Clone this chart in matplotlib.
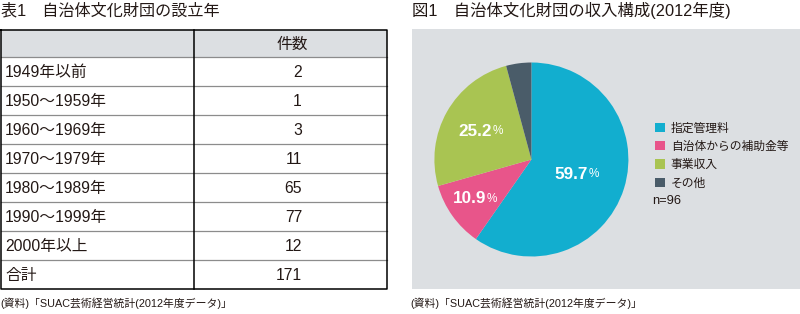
import matplotlib
matplotlib.use("Agg")
import matplotlib.pyplot as plt
from matplotlib.patches import Patch
import numpy as np

plt.rcParams['font.family'] = ['Noto Sans CJK JP', 'DejaVu Sans']
LAT = ['Liberation Sans', 'Noto Sans CJK JP']

# ---- data ----
table_title = "表1　自治体文化財団の設立年"
table_header = "件数"
periods = ["1949年以前", "1950～1959年", "1960～1969年", "1970～1979年",
           "1980～1989年", "1990～1999年", "2000年以上", "合計"]
counts = [2, 1, 3, 11, 65, 77, 12, 171]

pie_title = "図1　自治体文化財団の収入構成(2012年度)"
income_labels = ["指定管理料", "自治体からの補助金等", "事業収入", "その他"]
income_shares = [59.7, 10.9, 25.2, 4.2]
income_colors = ["#12aecf", "#e8558a", "#a9c452", "#4a5c69"]
shown_pct = ["59.7", "10.9", "25.2", None]
label_dist = [0.50, 0.70, 0.59, None]
n_note = "n=96"
source = "(資料)「SUAC芸術経営統計(2012年度データ)」"

W, H = 800, 314
fig = plt.figure(figsize=(W / 100, H / 100), dpi=100)
fig.patch.set_facecolor("white")

bg = fig.add_axes([0, 0, 1, 1])
bg.set_xlim(0, W)
bg.set_ylim(H, 0)
bg.axis("off")

TXT = "#231815"

# ---- table ----
x0, xm, x1 = 1, 193.5, 386.5
y_top, y_head = 30, 57.3
row_h = (289 - y_head) / len(periods)
bg.add_patch(plt.Rectangle((x0, y_top), x1 - x0, y_head - y_top,
                           facecolor="#dcdfe2", edgecolor="none", zorder=1))
row_edges = [y_head + i * row_h for i in range(len(periods) + 1)]
for y in row_edges[:-1]:
    bg.plot([x0, x1], [y, y], color="#8c8c8c", lw=0.9, zorder=2)
bg.plot([x0, x1, x1, x0, x0], [y_top, y_top, row_edges[-1], row_edges[-1], y_top],
        color="black", lw=1.1, zorder=3)
bg.plot([xm, xm], [y_top, row_edges[-1]], color="black", lw=1.1, zorder=3)

bg.text(x0, 11, table_title, fontsize=11.6, va="center", ha="left", color=TXT,
        family=LAT)
bg.text(292, (y_top + y_head) / 2 + 1, table_header, fontsize=11.3, va="center",
        ha="center", color=TXT, family=LAT)
for i, (p, c) in enumerate(zip(periods, counts)):
    yc = row_edges[i] + row_h / 2 + 1
    bg.text(5, yc, p, fontsize=11.3, va="center", ha="left", color=TXT, family=LAT)
    bg.text(302, yc, str(c), fontsize=11.3, va="center", ha="right", color=TXT,
            family=LAT)
bg.text(0, 303, source, fontsize=7.8, va="center", ha="left", color=TXT, family=LAT)

# ---- pie panel ----
bg.add_patch(plt.Rectangle((412, 28.7), W - 412, 289 - 28.7,
                           facecolor="#dcdfe2", edgecolor="none", zorder=0))
bg.text(412, 10, pie_title, fontsize=11.8, va="center", ha="left", color=TXT,
        family=LAT)
bg.text(410, 303, source, fontsize=7.8, va="center", ha="left", color=TXT, family=LAT)

cx, cy, r = 531.4, 159.5, 97
pax = fig.add_axes([(cx - r) / W, (H - cy - r) / H, 2 * r / W, 2 * r / H])
pax.set_facecolor("none")
wedges, _ = pax.pie(income_shares, colors=income_colors, startangle=90,
                    counterclock=False, radius=1, wedgeprops=dict(linewidth=0))
pax.set_xlim(-1, 1)
pax.set_ylim(-1, 1)
pax.set_aspect("equal")
pax.axis("off")

for w, pct, d in zip(wedges, shown_pct, label_dist):
    if pct is None:
        continue
    ang = np.deg2rad((w.theta1 + w.theta2) / 2)
    x, y = d * np.cos(ang), d * np.sin(ang)
    t = pax.text(x - 0.07, y, pct, fontsize=12.3, fontweight="bold", color="white",
                 ha="center", va="center", family=LAT)
    pax.annotate("%", xy=(1, 0.12), xycoords=t, xytext=(0.5, 0),
                 textcoords="offset points", fontsize=8.5, color="white",
                 ha="left", va="bottom", family=LAT)

handles = [Patch(facecolor=c, edgecolor="none") for c in income_colors]
leg = bg.legend(handles, income_labels, loc="upper left",
                bbox_to_anchor=(655 / W, 1 - 121.5 / H), bbox_transform=fig.transFigure,
                frameon=False, fontsize=8.5, handlelength=0.85, handleheight=0.85,
                handletextpad=0.5, labelspacing=0.45, borderaxespad=0, borderpad=0)
for txt in leg.get_texts():
    txt.set_color(TXT)
bg.text(652, 201, n_note, fontsize=9.3, va="center", ha="left", color=TXT, family=LAT)

fig.savefig("out.png", dpi=100, facecolor="white")
